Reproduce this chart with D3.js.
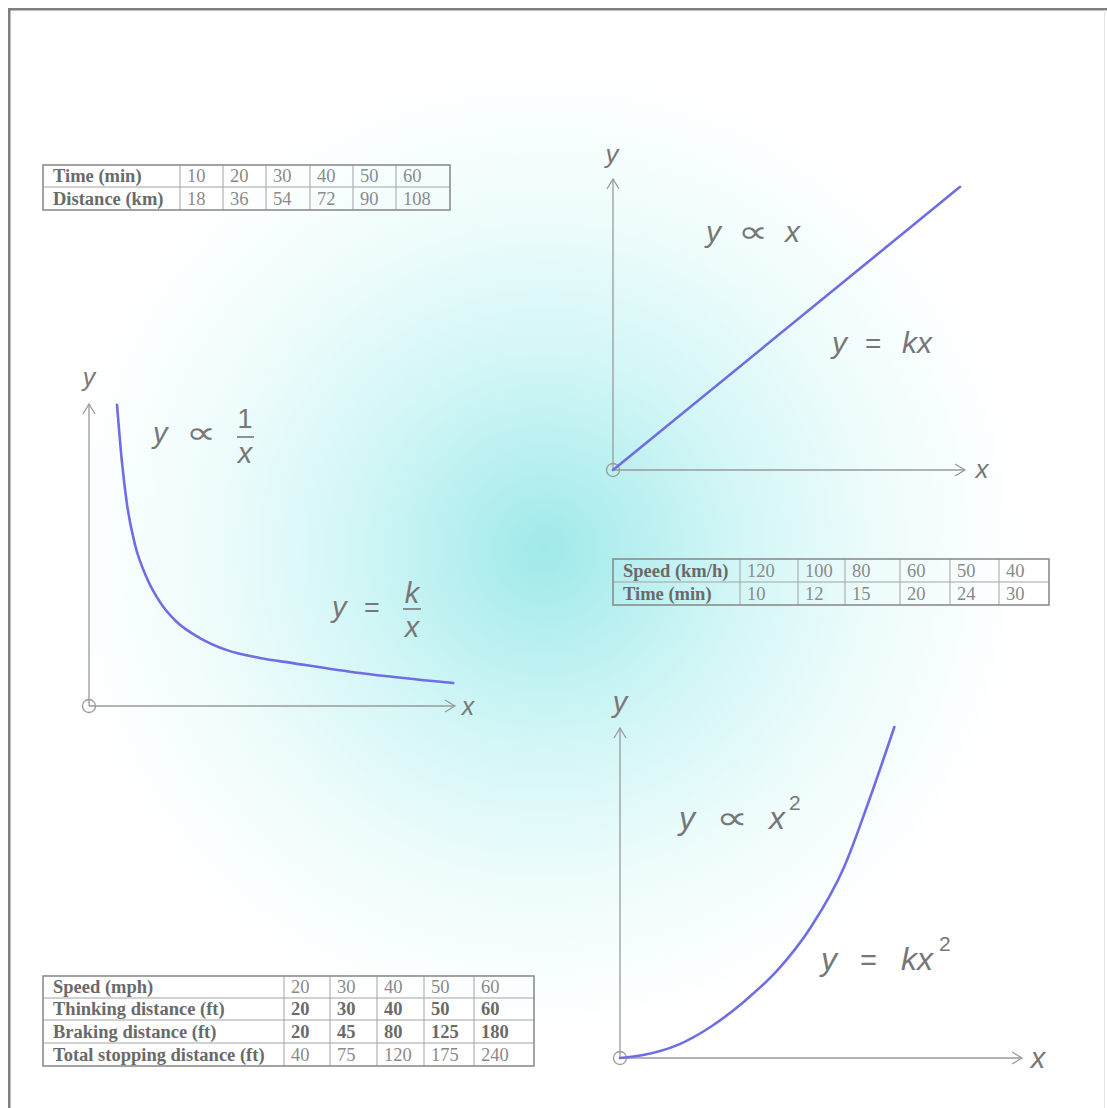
<!DOCTYPE html>
<html><head><meta charset="utf-8">
<script src="https://cdn.jsdelivr.net/npm/d3@7"></script>
<style>html,body{margin:0;padding:0;background:#fff;}svg{display:block;}</style>
</head><body>
<script>
// ---------- DATA ----------
const t1Labels = ["Time (min)", "Distance (km)"];
const t1Time = [10, 20, 30, 40, 50, 60];
const t1Distance = [18, 36, 54, 72, 90, 108];

const t2Labels = ["Speed (km/h)", "Time (min)"];
const t2Speed = [120, 100, 80, 60, 50, 40];
const t2Time = [10, 12, 15, 20, 24, 30];

const t3Labels = ["Speed (mph)", "Thinking distance (ft)", "Braking distance (ft)", "Total stopping distance (ft)"];
const t3Speed = [20, 30, 40, 50, 60];
const t3Thinking = [20, 30, 40, 50, 60];
const t3Braking = [20, 45, 80, 125, 180];
const t3Total = [40, 75, 120, 175, 240];

// curves (axis units 0..100)
const inverseX = [7.65, 9.0, 10.4, 12.6, 15.8, 19.4, 24.0, 30.3, 37.7, 46.7, 55.7, 74.0, 99.5];
const inverseY = [99.7, 80.8, 66.6, 53.3, 42.4, 34.4, 27.8, 22.5, 18.5, 15.9, 14.2, 10.9, 7.6];
const linearX = [0, 98.6];
const linearY = [0, 97.3];
const squareX = [0, 5.75, 14.25, 22.5, 30.75, 39.25, 47.5, 55.75, 62, 68.25];
const squareY = [0, 0.9, 3.9, 9.4, 17.0, 26.7, 39.7, 57.9, 78.2, 100.3];

// ---------- DRAW ----------
const W = 1107, H = 1108;
const svg = d3.select("body").append("svg").attr("width", W).attr("height", H);
const defs = svg.append("defs");
const rg = defs.append("radialGradient").attr("id", "bg")
  .attr("gradientUnits", "userSpaceOnUse").attr("cx", 545).attr("cy", 550).attr("r", 480);
[[0, "#a0e9ea"], [0.15, "#b3eeef"], [0.4, "#d2f6f6"], [0.7, "#eefcfc"], [1, "#ffffff"]]
  .forEach(([o, c]) => rg.append("stop").attr("offset", o).attr("stop-color", c));

svg.append("rect").attr("x", 10).attr("y", 10).attr("width", W - 10).attr("height", H - 10).attr("fill", "url(#bg)");
svg.append("rect").attr("x", 8).attr("y", 8).attr("width", W - 8).attr("height", 2.5).attr("fill", "#7f7f7f");
svg.append("rect").attr("x", 8).attr("y", 8).attr("width", 2.5).attr("height", H - 8).attr("fill", "#7f7f7f");
svg.append("line").attr("x1", 1104.5).attr("x2", 1104.5).attr("y1", 10).attr("y2", H).attr("stroke", "#e4e4e4");

const axisColor = "#9a9a9a";
const textColor = "#777";
const curveColor = "#6e6ee2";
const sans = "'Liberation Sans', Arial, sans-serif";
const serif = "'Liberation Serif', 'Times New Roman', serif";

function graph(cfg) {
  const x = d3.scaleLinear().domain([0, 100]).range(cfg.xr);
  const y = d3.scaleLinear().domain([0, 100]).range(cfg.yr);
  const g = svg.append("g");
  g.append("line").attr("x1", x(0)).attr("y1", y(0)).attr("x2", x(100)).attr("y2", y(0))
    .attr("stroke", axisColor).attr("stroke-width", 1.3);
  g.append("line").attr("x1", x(0)).attr("y1", y(0)).attr("x2", x(0)).attr("y2", y(100))
    .attr("stroke", axisColor).attr("stroke-width", 1.3);
  g.append("path").attr("d", `M${x(100) - 10},${y(0) - 6}L${x(100)},${y(0)}L${x(100) - 10},${y(0) + 6}`)
    .attr("fill", "none").attr("stroke", axisColor).attr("stroke-width", 1.3);
  g.append("path").attr("d", `M${x(0) - 6},${y(100) + 10}L${x(0)},${y(100)}L${x(0) + 6},${y(100) + 10}`)
    .attr("fill", "none").attr("stroke", axisColor).attr("stroke-width", 1.3);
  g.append("circle").attr("cx", x(0)).attr("cy", y(0)).attr("r", 6.5)
    .attr("fill", "none").attr("stroke", axisColor).attr("stroke-width", 1.3);
  g.append("text").attr("x", x(0) + cfg.ylab[0]).attr("y", y(100) + cfg.ylab[1]).attr("text-anchor", "middle")
    .attr("font-family", sans).attr("font-style", "italic").attr("font-size", cfg.labSize)
    .attr("fill", textColor).text("y");
  g.append("text").attr("x", x(100) + cfg.xlab[0]).attr("y", y(0) + cfg.xlab[1]).attr("text-anchor", "middle")
    .attr("font-family", sans).attr("font-style", "italic").attr("font-size", cfg.labSize)
    .attr("fill", textColor).text("x");
  const pts = cfg.xs.map((v, i) => [v, cfg.ys[i]]);
  g.append("path").datum(pts)
    .attr("d", d3.line().x(d => x(d[0])).y(d => y(d[1])).curve(d3.curveMonotoneX))
    .attr("fill", "none").attr("stroke", curveColor).attr("stroke-width", 2.6).attr("stroke-linecap", "round");
  return g;
}

function t(g, s, px, py, size, italic, anchor) {
  return g.append("text").attr("x", px).attr("y", py).attr("font-family", sans)
    .attr("font-size", size).attr("font-style", italic ? "italic" : "normal")
    .attr("text-anchor", anchor || "start").attr("fill", textColor).text(s);
}
function prop(g, px, py, size) {
  // proportional-to sign, drawn wide like the reference
  return g.append("text").attr("x", 0).attr("y", 0).attr("font-family", "'DejaVu Sans', sans-serif")
    .attr("font-size", size).attr("fill", textColor)
    .attr("transform", `translate(${px},${py}) scale(1.45,1.05)`).text("\u221D");
}
function bar(g, x1, x2, yy) {
  g.append("line").attr("x1", x1).attr("x2", x2).attr("y1", yy).attr("y2", yy)
    .attr("stroke", textColor).attr("stroke-width", 1.6);
}

// Graph 1: inverse
const g1 = graph({ xr: [89, 455], yr: [706, 404], xs: inverseX, ys: inverseY,
  ylab: [0, -18], xlab: [13, 9], labSize: 25 });
t(g1, "y", 153, 443, 29, true);
prop(g1, 186, 443, 29);
t(g1, "1", 245, 428, 27, false, "middle");
bar(g1, 237, 254, 437);
t(g1, "x", 245, 463, 29, true, "middle");
t(g1, "y", 332, 617, 29, true);
t(g1, "=", 364, 617, 27, false);
t(g1, "k", 412, 603, 29, true, "middle");
bar(g1, 403, 421, 609);
t(g1, "x", 412, 637, 29, true, "middle");

// Graph 2: linear
const g2 = graph({ xr: [613, 965], yr: [470, 179], xs: linearX, ys: linearY,
  ylab: [-1, -16], xlab: [17, 8], labSize: 26 });
t(g2, "y", 706, 242, 30, true);
prop(g2, 738, 242, 29);
t(g2, "x", 785, 242, 30, true);
t(g2, "y", 832, 353, 30, true);
t(g2, "=", 865, 353, 28, false);
t(g2, "kx", 902, 353, 30, true);

// Graph 3: square
const g3 = graph({ xr: [620, 1022], yr: [1058, 728], xs: squareX, ys: squareY,
  ylab: [0, -16], xlab: [16, 10], labSize: 29 });
t(g3, "y", 679, 829, 32, true);
prop(g3, 716, 829, 31);
t(g3, "x", 769, 829, 32, true);
t(g3, "2", 789, 810, 21, false);
t(g3, "y", 821, 970, 32, true);
t(g3, "=", 860, 970, 29, false);
t(g3, "kx", 901, 970, 32, true);
t(g3, "2", 939, 951, 21, false);

// ---------- TABLES ----------
function table(xEdges, yEdges, rows, boldRows) {
  const g = svg.append("g");
  const x0 = xEdges[0], x1 = xEdges[xEdges.length - 1];
  const y0 = yEdges[0], y1 = yEdges[yEdges.length - 1];
  yEdges.slice(1, -1).forEach(yy => g.append("line").attr("x1", x0).attr("x2", x1).attr("y1", yy).attr("y2", yy)
    .attr("stroke", "#a3a3a3").attr("stroke-width", 1));
  xEdges.slice(1, -1).forEach(xx => g.append("line").attr("x1", xx).attr("x2", xx).attr("y1", y0).attr("y2", y1)
    .attr("stroke", "#a3a3a3").attr("stroke-width", 1));
  g.append("rect").attr("x", x0).attr("y", y0).attr("width", x1 - x0).attr("height", y1 - y0)
    .attr("fill", "none").attr("stroke", "#8c8c8c").attr("stroke-width", 1.6);
  rows.forEach((row, r) => {
    const yy = (yEdges[r] + yEdges[r + 1]) / 2 + 6;
    row.forEach((val, c) => {
      const first = c === 0;
      g.append("text").attr("x", xEdges[c] + (first ? 10 : 7)).attr("y", yy)
        .attr("font-family", serif).attr("font-size", 18.5)
        .attr("font-weight", (first || boldRows.includes(r)) ? "bold" : "normal")
        .attr("fill", (first || boldRows.includes(r)) ? "#6a6a6a" : "#8a8a8a")
        .text(val);
    });
  });
}

table([43, 180, 223, 266, 310, 353, 396, 450], [165, 187, 210],
  [[t1Labels[0], ...t1Time], [t1Labels[1], ...t1Distance]], []);
table([613, 740, 798, 845, 900, 950, 999, 1049], [559, 582, 605],
  [[t2Labels[0], ...t2Speed], [t2Labels[1], ...t2Time]], []);
table([43, 284, 330, 377, 424, 474, 534], [976, 998, 1020, 1043, 1066],
  [[t3Labels[0], ...t3Speed], [t3Labels[1], ...t3Thinking], [t3Labels[2], ...t3Braking], [t3Labels[3], ...t3Total]], [1, 2]);
</script>
</body></html>
